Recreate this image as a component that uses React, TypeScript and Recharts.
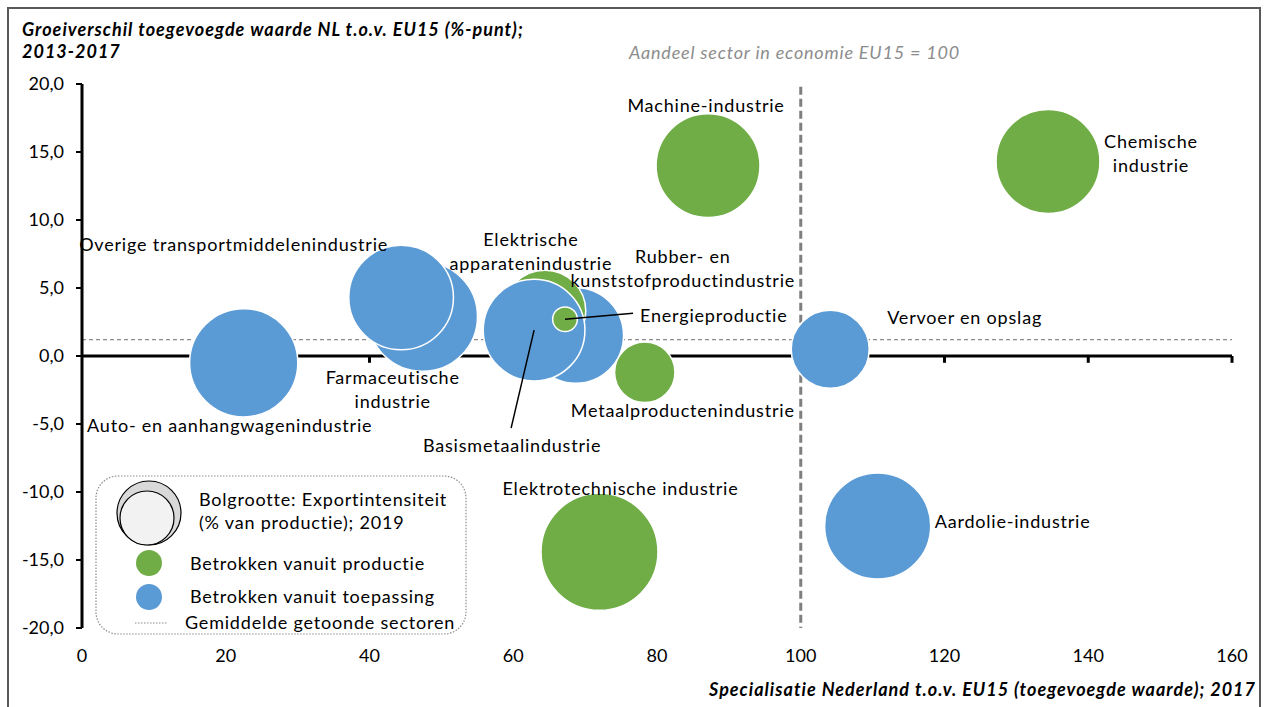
import { ScatterChart, Scatter, XAxis, YAxis, ZAxis, ReferenceLine } from 'recharts';

const sectors = [
  'Farmaceutische industrie',
  'Overige transportmiddelenindustrie',
  'Auto- en aanhangwagenindustrie',
  'Rubber- en kunststofproductindustrie',
  'Elektrische apparatenindustrie',
  'Basismetaalindustrie',
  'Energieproductie',
  'Metaalproductenindustrie',
  'Machine-industrie',
  'Chemische industrie',
  'Vervoer en opslag',
  'Elektrotechnische industrie',
  'Aardolie-industrie',
];
// specialisatie NL t.o.v. EU15 (EU15 = 100)
const specialisatie = [47.4, 44.4, 22.5, 68.7, 64.4, 62.9, 67.2, 78.3, 87.1, 134.4, 104.1, 72.0, 110.7];
// groeiverschil toegevoegde waarde (%-punt)
const groeiverschil = [2.9, 4.3, -0.5, 1.5, 3.3, 1.9, 2.7, -1.2, 14.0, 14.3, 0.5, -14.4, -12.5];
// exportintensiteit (% van productie)
const exportintensiteit = [79, 72, 77, 60, 44, 68, 4, 24, 71, 71, 40, 90, 74];
const groep = ['t', 't', 't', 't', 'p', 't', 'p', 'p', 'p', 'p', 't', 'p', 't'];

const xTicks = [0, 20, 40, 60, 80, 100, 120, 140, 160];
const yTicks = [-20, -15, -10, -5, 0, 5, 10, 15, 20];
const gemiddelde = 1.2;

const GREEN = '#70AD47';
const BLUE = '#5B9BD5';
const FONT = 'Lato, "Open Sans", sans-serif';
const LS = 0.8;

const data = sectors.map((name, i) => ({
  name,
  x: specialisatie[i],
  y: groeiverschil[i],
  z: exportintensiteit[i],
  groep: groep[i],
}));

type LabelCfg = { lines: string[]; dx: number; dy: number; anchor: 'start' | 'middle' | 'end'; leader?: [number, number] };

const labels: Record<string, LabelCfg> = {
  'Farmaceutische industrie': { lines: ['Farmaceutische', 'industrie'], dx: -30, dy: 60, anchor: 'middle' },
  'Overige transportmiddelenindustrie': { lines: ['Overige transportmiddelenindustrie'], dx: -13, dy: -54, anchor: 'end' },
  'Auto- en aanhangwagenindustrie': { lines: ['Auto- en aanhangwagenindustrie'], dx: -14, dy: 62, anchor: 'middle' },
  'Rubber- en kunststofproductindustrie': { lines: ['Rubber- en', 'kunststofproductindustrie'], dx: 107, dy: -80, anchor: 'middle' },
  'Elektrische apparatenindustrie': { lines: ['Elektrische', 'apparatenindustrie'], dx: -14, dy: -72, anchor: 'middle' },
  'Basismetaalindustrie': { lines: ['Basismetaalindustrie'], dx: -22, dy: 115, anchor: 'middle', leader: [-23, 98] },
  'Energieproductie': { lines: ['Energieproductie'], dx: 75, dy: -4, anchor: 'start', leader: [68, -6] },
  'Metaalproductenindustrie': { lines: ['Metaalproductenindustrie'], dx: 38, dy: 38, anchor: 'middle' },
  'Machine-industrie': { lines: ['Machine-industrie'], dx: -2, dy: -61, anchor: 'middle' },
  'Chemische industrie': { lines: ['Chemische', 'industrie'], dx: 103, dy: -21, anchor: 'middle' },
  'Vervoer en opslag': { lines: ['Vervoer en opslag'], dx: 57, dy: -32, anchor: 'start' },
  'Elektrotechnische industrie': { lines: ['Elektrotechnische industrie'], dx: 21, dy: -64, anchor: 'middle' },
  'Aardolie-industrie': { lines: ['Aardolie-industrie'], dx: 57, dy: -5, anchor: 'start' },
};

const Bubble = (p: any) => (
  <circle
    cx={p.cx}
    cy={p.cy}
    r={p.width / 2}
    fill={p.payload.groep === 'p' ? GREEN : BLUE}
    stroke="#ffffff"
    strokeWidth={1.5}
  />
);

const BubbleLabel = (p: any) => {
  const cfg = labels[p.payload.name];
  if (!cfg) return <g />;
  return (
    <g>
      {cfg.leader && (
        <line x1={p.cx} y1={p.cy} x2={p.cx + cfg.leader[0]} y2={p.cy + cfg.leader[1]} stroke="#000" strokeWidth={1.5} />
      )}
      {cfg.lines.map((t, i) => (
        <text
          key={i}
          x={p.cx + cfg.dx}
          y={p.cy + cfg.dy + i * 24}
          textAnchor={cfg.anchor}
          dominantBaseline="central"
          fontFamily={FONT}
          fontSize={18}
          letterSpacing={LS}
          fill="#000"
        >
          {t}
        </text>
      ))}
    </g>
  );
};

const fmt = (v: number) => v.toFixed(1).replace('.', ',');

const txt = { fontFamily: FONT, fontSize: 18, letterSpacing: LS, fill: '#000' };

export default function App() {
  return (
    <div style={{ position: 'absolute', left: 0, top: 0, width: 1267, height: 707, background: '#fff', overflow: 'hidden', fontFamily: FONT }}>
      <div style={{ position: 'absolute', left: 7, top: 7, width: 1250, height: 720, border: '2px solid #595959' }} />
      <ScatterChart width={1267} height={707} margin={{ top: 84, right: 35, bottom: 49, left: 22 }}>
        <XAxis
          type="number"
          dataKey="x"
          domain={[0, 160]}
          ticks={xTicks}
          axisLine={false}
          tickLine={false}
          tickMargin={15}
          height={30}
          tick={{ fontSize: 18, fill: '#000', fontFamily: FONT }}
        />
        <YAxis
          type="number"
          dataKey="y"
          domain={[-20, 20]}
          ticks={yTicks}
          width={60}
          axisLine={{ stroke: '#000', strokeWidth: 3 }}
          tickLine={{ stroke: '#000', strokeWidth: 2 }}
          tickSize={6}
          tickMargin={12}
          tickFormatter={fmt}
          tick={{ fontSize: 18, fill: '#000', fontFamily: FONT }}
        />
        <ZAxis type="number" dataKey="z" domain={[0, 90]} range={[0, 10750]} />
        <ReferenceLine y={0} stroke="#000" strokeWidth={3} />
        {xTicks.slice(1).map((t) => (
          <ReferenceLine key={t} segment={[{ x: t, y: 0 }, { x: t, y: -0.5 }]} stroke="#000" strokeWidth={3} />
        ))}
        <ReferenceLine y={gemiddelde} stroke="#8c8c8c" strokeWidth={1.2} strokeDasharray="4 3" />
        <ReferenceLine segment={[{ x: 100, y: 19.8 }, { x: 100, y: -20 }]} stroke="#7f7f7f" strokeWidth={3} strokeDasharray="8 4" />
        <Scatter data={data} shape={Bubble} isAnimationActive={false} />
        <Scatter data={data} shape={BubbleLabel} isAnimationActive={false} />
      </ScatterChart>

      <svg width={1267} height={707} style={{ position: 'absolute', left: 0, top: 0, pointerEvents: 'none' }}>
        <text x={22} y={36} {...txt} fontWeight="bold" fontStyle="italic" letterSpacing={1}>
          Groeiverschil toegevoegde waarde NL t.o.v. EU15 (%-punt);
        </text>
        <text x={22} y={58} {...txt} fontWeight="bold" fontStyle="italic" letterSpacing={1}>
          2013-2017
        </text>
        <text x={629} y={59} {...txt} fontStyle="italic" fill="#8c8c8c">
          Aandeel sector in economie EU15 = 100
        </text>
        <text x={1256} y={696} textAnchor="end" {...txt} fontWeight="bold" fontStyle="italic" letterSpacing={1}>
          Specialisatie Nederland t.o.v. EU15 (toegevoegde waarde); 2017
        </text>

        {/* legenda */}
        <rect x={96} y={476} width={370} height={158} rx={22} fill="#fff" stroke="#8c8c8c" strokeWidth={1.2} strokeDasharray="1.5 1.5" />
        <circle cx={149} cy={513} r={32} fill="#d9d9d9" stroke="#000" strokeWidth={1.2} />
        <circle cx={147} cy={518} r={27} fill="#f2f2f2" stroke="#000" strokeWidth={1.2} />
        <text x={199} y={506} {...txt}>Bolgrootte: Exportintensiteit</text>
        <text x={199} y={529} {...txt}>(% van productie); 2019</text>
        <circle cx={149} cy={563} r={13} fill={GREEN} />
        <text x={190} y={570} {...txt}>Betrokken vanuit productie</text>
        <circle cx={149} cy={597} r={13} fill={BLUE} />
        <text x={190} y={603} {...txt}>Betrokken vanuit toepassing</text>
        <line x1={135} y1={623} x2={167} y2={623} stroke="#8c8c8c" strokeWidth={1.2} strokeDasharray="1.5 1.5" />
        <text x={185} y={629} {...txt}>Gemiddelde getoonde sectoren</text>
      </svg>
    </div>
  );
}
